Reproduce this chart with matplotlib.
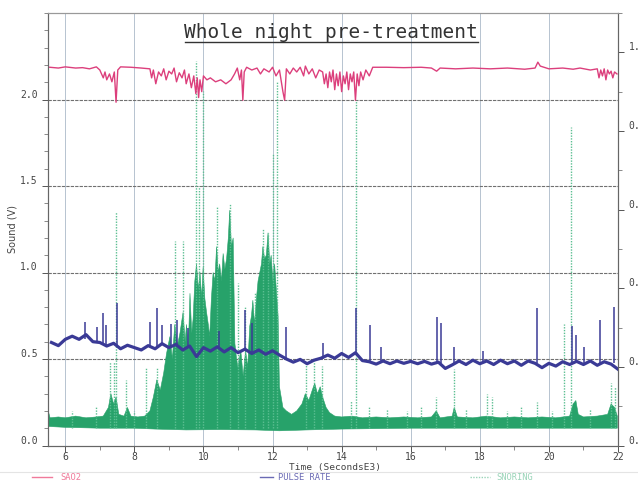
import numpy as np
import matplotlib
matplotlib.use('Agg')
import matplotlib.pyplot as plt
from matplotlib.lines import Line2D
from matplotlib.ticker import MultipleLocator, FormatStrFormatter

plt.rcParams['font.family'] = 'DejaVu Sans Mono'

# SaO2 trace (right axis, fraction)
sao_t = [5.55, 5.8, 6.0, 6.3, 6.5, 6.7, 6.9, 7.0, 7.1, 7.15, 7.2, 7.28, 7.35, 7.42, 7.47, 7.52,
         7.6, 7.9, 8.2, 8.45, 8.5, 8.55, 8.62, 8.7, 8.78, 8.85, 8.92, 9.0, 9.08, 9.15, 9.22, 9.3,
         9.38, 9.45, 9.5, 9.58, 9.65, 9.72, 9.78, 9.82, 9.86, 9.9, 9.95, 10.0, 10.1, 10.2, 10.35,
         10.5, 10.65, 10.8, 10.9, 10.98, 11.05, 11.1, 11.14, 11.18, 11.25, 11.4, 11.55, 11.65,
         11.75, 11.9, 12.0, 12.1, 12.2, 12.3, 12.35, 12.4, 12.5, 12.6, 12.7, 12.8, 12.9, 12.95,
         13.05, 13.15, 13.25, 13.35, 13.45, 13.5, 13.55, 13.6, 13.65, 13.7, 13.75, 13.8, 13.85,
         13.9, 13.95, 14.0, 14.05, 14.1, 14.15, 14.2, 14.25, 14.3, 14.35, 14.4, 14.45, 14.5,
         14.55, 14.62, 14.7, 14.8, 14.9, 15.3, 15.8, 16.3, 16.6, 16.75, 16.85, 17.3, 17.8, 18.3,
         18.8, 19.3, 19.6, 19.68, 19.75, 20.0, 20.4, 20.7, 20.9, 21.2, 21.4, 21.45, 21.5, 21.55,
         21.6, 21.65, 21.7, 21.75, 21.8, 21.85, 21.9, 21.97]
sao_v = [0.962, 0.960, 0.963, 0.960, 0.961, 0.958, 0.963, 0.955, 0.935, 0.950, 0.930, 0.945,
         0.925, 0.950, 0.873, 0.955, 0.963, 0.962, 0.960, 0.958, 0.935, 0.955, 0.920, 0.950,
         0.940, 0.958, 0.930, 0.952, 0.945, 0.960, 0.925, 0.948, 0.935, 0.955, 0.920, 0.945,
         0.910, 0.940, 0.895, 0.935, 0.885, 0.930, 0.900, 0.940, 0.930, 0.935, 0.925, 0.930,
         0.920, 0.930, 0.945, 0.960, 0.930, 0.955, 0.878, 0.950, 0.962, 0.955, 0.960, 0.945,
         0.958, 0.950, 0.962, 0.940, 0.955, 0.900, 0.878, 0.958, 0.945, 0.960, 0.950, 0.962,
         0.940, 0.965, 0.945, 0.958, 0.935, 0.955, 0.950, 0.920, 0.945, 0.910, 0.950, 0.925,
         0.955, 0.905, 0.945, 0.915, 0.950, 0.900, 0.940, 0.920, 0.950, 0.905, 0.945, 0.925,
         0.950, 0.878, 0.945, 0.915, 0.950, 0.930, 0.955, 0.940, 0.962, 0.962, 0.961, 0.962,
         0.960, 0.952, 0.960, 0.958, 0.960, 0.958, 0.960, 0.957, 0.960, 0.975, 0.965, 0.958,
         0.960, 0.957, 0.960, 0.955, 0.958, 0.935, 0.955, 0.940, 0.958, 0.930, 0.955, 0.945,
         0.952, 0.935, 0.950, 0.945]

# pulse rate baseline (right axis), one reading every 0.2 ks
pulse_t = np.linspace(5.6, 22.0, 83)
pulse_v = [0.262, 0.254, 0.270, 0.278, 0.270, 0.282, 0.264, 0.262, 0.253, 0.260, 0.246, 0.255,
           0.249, 0.243, 0.254, 0.246, 0.259, 0.249, 0.257, 0.243, 0.253, 0.226, 0.249, 0.240,
           0.251, 0.238, 0.249, 0.236, 0.245, 0.234, 0.243, 0.232, 0.241, 0.230, 0.220, 0.212,
           0.219, 0.208, 0.217, 0.222, 0.230, 0.222, 0.234, 0.224, 0.236, 0.216, 0.213, 0.207,
           0.215, 0.208, 0.215, 0.209, 0.214, 0.208, 0.214, 0.207, 0.212, 0.196, 0.205, 0.215,
           0.206, 0.217, 0.208, 0.215, 0.206, 0.217, 0.208, 0.215, 0.204, 0.215, 0.209, 0.198,
           0.209, 0.202, 0.213, 0.206, 0.214, 0.206, 0.215, 0.204, 0.213, 0.207, 0.194]
# pulse spikes: time, base, top
pspk_t = [6.58, 6.92, 7.10, 7.18, 7.50, 8.45, 8.66, 8.80, 9.05, 9.22, 9.55, 10.45, 11.19, 11.40,
          12.38, 13.45, 14.43, 14.83, 15.15, 16.76, 16.88, 17.26, 18.1, 19.65, 20.66, 20.78,
          21.01, 21.47, 21.87]
pspk_lo = [0.27, 0.26, 0.26, 0.255, 0.25, 0.25, 0.25, 0.255, 0.25, 0.25, 0.25, 0.245, 0.24, 0.238,
           0.22, 0.22, 0.23, 0.215, 0.212, 0.21, 0.21, 0.205, 0.212, 0.21, 0.21, 0.21, 0.21,
           0.21, 0.21]
pspk_hi = [0.315, 0.302, 0.338, 0.307, 0.363, 0.315, 0.350, 0.307, 0.31, 0.32, 0.30, 0.29, 0.345,
           0.312, 0.302, 0.26, 0.350, 0.307, 0.251, 0.327, 0.312, 0.251, 0.24, 0.350, 0.305,
           0.282, 0.251, 0.318, 0.353]

# snoring envelope (left axis, V)
snore_t = [5.52, 5.56, 5.8, 6.0, 6.3, 6.6, 6.9, 7.1, 7.25, 7.32, 7.4, 7.47, 7.55, 7.7, 7.8, 7.9,
           8.1, 8.3, 8.45, 8.55, 8.65, 8.75, 8.85, 8.93, 9.03, 9.1, 9.17, 9.25, 9.32, 9.41, 9.47,
           9.51, 9.56, 9.61, 9.66, 9.70, 9.75, 9.80, 9.85, 9.90, 9.95, 9.99, 10.04, 10.09, 10.14,
           10.18, 10.23, 10.28, 10.33, 10.38, 10.43, 10.47, 10.52, 10.57, 10.62, 10.67, 10.72,
           10.76, 10.81, 10.86, 10.91, 10.96, 11.00, 11.08, 11.15, 11.22, 11.28, 11.34, 11.39,
           11.43, 11.48, 11.53, 11.58, 11.63, 11.68, 11.72, 11.77, 11.82, 11.87, 11.92, 11.96,
           12.01, 12.06, 12.11, 12.16, 12.20, 12.25, 12.30, 12.4, 12.55, 12.7, 12.85, 12.95,
           13.05, 13.15, 13.22, 13.3, 13.38, 13.45, 13.55, 13.65, 13.8, 14.0, 14.3, 14.6, 15.0,
           15.4, 15.8, 16.2, 16.6, 16.74, 16.85, 17.2, 17.26, 17.35, 17.8, 18.2, 18.6, 19.0,
           19.4, 19.8, 20.2, 20.6, 20.7, 20.78, 20.85, 21.0, 21.4, 21.7, 21.8, 21.9, 21.98]
snore_hi = [0.19, 0.16, 0.165, 0.16, 0.17, 0.16, 0.165, 0.17, 0.22, 0.30, 0.24, 0.28, 0.18, 0.17,
            0.22, 0.17, 0.165, 0.17, 0.20, 0.28, 0.38, 0.32, 0.42, 0.53, 0.63, 0.50, 0.70, 0.58,
            0.65, 0.77, 0.60, 0.70, 0.55, 0.88, 0.65, 0.73, 0.95, 1.05, 0.90, 1.00, 0.85, 1.03,
            0.85, 0.77, 0.70, 0.63, 0.85, 1.00, 0.95, 1.15, 1.00, 1.05, 0.95, 1.11, 1.02, 1.08,
            1.20, 1.36, 1.15, 1.20, 0.59, 0.50, 0.45, 0.55, 0.40, 0.55, 0.45, 0.69, 0.75, 0.84,
            0.70, 0.84, 0.95, 1.00, 1.05, 1.15, 1.08, 1.10, 1.23, 1.05, 1.10, 0.95, 1.05, 0.90,
            0.75, 0.34, 0.28, 0.22, 0.20, 0.18, 0.20, 0.24, 0.30, 0.26, 0.32, 0.36, 0.30, 0.34,
            0.28, 0.22, 0.19, 0.17, 0.165, 0.17, 0.16, 0.165, 0.16, 0.165, 0.16, 0.165, 0.20,
            0.16, 0.17, 0.22, 0.165, 0.16, 0.17, 0.16, 0.165, 0.16, 0.165, 0.16, 0.17, 0.24,
            0.26, 0.18, 0.165, 0.17, 0.18, 0.24, 0.22, 0.17]
snore_lo_t = [5.52, 6.0, 7.0, 8.0, 8.6, 9.5, 10.5, 11.5, 12.2, 13.0, 14.0, 16.0, 18.0, 20.0, 21.98]
snore_lo_v = [0.11, 0.105, 0.10, 0.10, 0.095, 0.09, 0.092, 0.09, 0.085, 0.09, 0.095, 0.10, 0.10,
              0.10, 0.10]
# dotted snoring spikes: time, top (V)
sspk_t = [6.2, 6.9, 7.30, 7.41, 7.47, 7.76, 8.0, 8.34, 8.65, 9.17, 9.41, 9.78, 9.86, 9.99, 10.38,
          10.76, 11.00, 11.20, 11.50, 11.72, 11.87, 12.02, 12.12, 12.98, 13.20, 13.42, 14.28,
          14.43, 14.8, 15.3, 15.9, 16.3, 16.74, 17.26, 17.6, 18.20, 18.35, 18.8, 19.2, 19.65,
          20.1, 20.43, 20.63, 21.2, 21.80, 21.90]
sspk_v = [0.20, 0.22, 0.48, 0.48, 1.35, 0.38, 0.20, 0.45, 0.45, 1.18, 1.18, 2.22, 1.50, 2.05,
          1.38, 1.40, 0.94, 0.80, 0.88, 1.25, 1.23, 1.69, 2.10, 0.48, 0.49, 0.46, 0.26, 2.00,
          0.22, 0.21, 0.20, 0.22, 0.28, 0.44, 0.21, 0.30, 0.28, 0.20, 0.22, 0.25, 0.20, 0.70,
          1.84, 0.21, 0.36, 0.34]

pink = '#dc3f7c'
blue = '#3a3a96'
green = '#27a26a'
lgreen = '#5cbf92'

fig = plt.figure(figsize=(6.38, 4.8), dpi=100)
W, H = 638.0, 480.0
ax = fig.add_axes([48 / W, 1 - 445.5 / H, (618 - 48) / W, (445.5 - 13) / H])
ax2 = ax.twinx()

# grid
for xv in range(6, 23, 2):
    ax.axvline(xv, color='#b6c3d0', lw=0.7, zorder=0)
for yv in [0.5, 1.0, 1.5, 2.0]:
    ax.axhline(yv, color='#707070', lw=0.8, ls=(0, (3, 1)), zorder=0)

# snoring
xs = np.concatenate([snore_t, snore_lo_t[::-1]])
ys = np.concatenate([snore_hi, snore_lo_v[::-1]])
ax.fill(xs, ys, color=green, lw=0.4, zorder=2)
ax.vlines(sspk_t, 0.1, sspk_v, colors=lgreen, linestyles=(0, (1, 1)), lw=1.0, zorder=2)

# pulse and sao2
ax2.plot(pulse_t, pulse_v, color=blue, lw=2.3, zorder=3)
ax2.vlines(pspk_t, pspk_lo, pspk_hi, colors=blue, lw=1.1, zorder=3)
ax2.plot(sao_t, sao_v, color=pink, lw=1.0, zorder=4)

ax.set_xlim(5.5, 22.0)
ax.set_ylim(0, 2.5)
ax2.set_ylim(0, 1.1)

ax.set_xticks(range(6, 23, 2))
ax.xaxis.set_minor_locator(MultipleLocator(1))
ax.set_yticks([0.0, 0.5, 1.0, 1.5, 2.0])
ax.yaxis.set_minor_locator(MultipleLocator(0.1))
ax.yaxis.set_major_formatter(FormatStrFormatter('%.1f'))
ax2.set_yticks([0.0, 0.2, 0.4, 0.6, 0.8, 1.0])
ax2.yaxis.set_minor_locator(MultipleLocator(0.1))
ax2.yaxis.set_major_formatter(FormatStrFormatter('%.1f'))

for a in (ax, ax2):
    a.tick_params(which='major', labelsize=7, colors='#555', labelcolor='#444', length=4, width=0.7)
    a.tick_params(which='minor', colors='#777', length=3, width=0.6)
    for s in a.spines.values():
        s.set_color('#666')
        s.set_linewidth(0.8)
    a.spines['top'].set_color('#999')
for lab in ax.get_yticklabels() + ax2.get_yticklabels():
    lab.set_va('bottom')
ax.tick_params(axis='x', pad=1)

ax.set_ylabel('Sound (V)', family='DejaVu Sans', fontsize=7, color='#444', labelpad=2)

# title with underline
fig.text(331 / W, 1 - 33 / H, 'Whole night pre-treatment', fontsize=14, color='#333',
         ha='center', va='center')
fig.add_artist(Line2D([185 / W, 478 / W], [1 - 42 / H, 1 - 42 / H], color='#333', lw=1.0))

fig.text(335 / W, 1 - 467.5 / H, 'Time (SecondsE3)', fontsize=6.8, color='#444',
         ha='center', va='center')

# legend strip
fig.add_artist(Line2D([0, 1], [1 - 472 / H, 1 - 472 / H], color='#e4e4e4', lw=0.8))
ly = 1 - 477 / H
fig.add_artist(Line2D([32 / W, 52 / W], [ly, ly], color='#f07a9a', lw=1.0))
fig.text(60 / W, ly, 'SAO2', fontsize=6.3, color='#f07a9a', va='center')
fig.add_artist(Line2D([260 / W, 273 / W], [ly, ly], color='#6a6ab4', lw=1.0))
fig.text(278 / W, ly, 'PULSE RATE', fontsize=6.3, color='#6a6ab4', va='center')
fig.add_artist(Line2D([470 / W, 490 / W], [ly, ly], color='#9ad4b8', lw=1.0, ls=(0, (1, 1))))
fig.text(496 / W, ly, 'SNORING', fontsize=6.3, color='#9ad4b8', va='center')

fig.savefig('out.png', dpi=100)
